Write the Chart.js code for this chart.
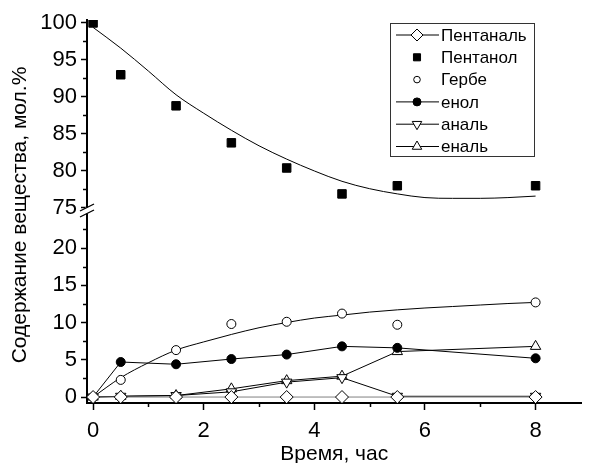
<!DOCTYPE html>
<html>
<head>
<meta charset="utf-8">
<script src="https://cdn.jsdelivr.net/npm/chart.js@4.4.1/dist/chart.umd.min.js"></script>
<style>
    html, body { margin: 0; padding: 0; background: #fff; }
    #wrap { width: 589px; height: 463px; position: relative; }
</style>
</head>
<body>
<div id="wrap"><canvas id="chart"></canvas></div>
<script>
// ==================== DATA ====================

const times = [0, 0.5, 1.5, 2.5, 3.5, 4.5, 5.5, 8];
const pentanal = [0, 0, 0, 0, 0, 0, 0, 0];
const pentanol = [100, 93.0, 88.8, 83.8, 80.4, 76.9, 78.0, 78.0];
const gerbe = [0, 2.3, 6.3, 9.8, 10.1, 11.2, 9.7, 12.7];
const enol = [0, 4.7, 4.4, 5.1, 5.7, 6.8, 6.6, 5.2];
const anal = [0, 0.1, 0.2, 0.7, 2.0, 2.6, 0.1, 0.1];
const enal = [0, 0.1, 0.2, 1.1, 2.2, 2.8, 6.1, 6.8];

// fitted curves
const fitTimes = [0, 0.5, 1, 1.5, 2, 2.5, 3, 3.5, 4, 4.5, 5, 5.5, 6, 6.5, 7, 7.5, 8];
const pentanolFit = [99.4, 96.6, 93.5, 90.3, 87.8, 85.5, 83.4, 81.6, 80.0, 78.6, 77.6, 76.9, 76.4, 76.3, 76.3, 76.4, 76.6];
const gerbeFit = [0, 2.6, 4.6, 6.3, 7.4, 8.4, 9.3, 10.0, 10.6, 11.0, 11.4, 11.7, 11.95, 12.15, 12.35, 12.55, 12.7];

const xTicks = [0, 1, 2, 3, 4, 5, 6, 7, 8];
const yLowTicks = [0, 2.5, 5, 7.5, 10, 12.5, 15, 17.5, 20, 22.5];
const yHighTicks = [75, 77.5, 80, 82.5, 85, 87.5, 90, 92.5, 95, 97.5, 100];

const FONT = '"Liberation Sans", Arial, sans-serif';

const pts = (xs, ys) => xs.map((x, i) => ({ x: x, y: ys[i] }));

// ==================== HELPERS ====================

function drawMarker(ctx, style, x, y, r, down) {
    ctx.beginPath();
    if (style === 'circle') {
        ctx.arc(x, y, r, 0, Math.PI * 2);
    } else if (style === 'rect') {
        const s = r * Math.SQRT1_2;
        ctx.rect(x - s, y - s, s * 2, s * 2);
    } else if (style === 'rectRot') {
        ctx.moveTo(x, y - r);
        ctx.lineTo(x + r, y);
        ctx.lineTo(x, y + r);
        ctx.lineTo(x - r, y);
        ctx.closePath();
    } else if (style === 'triangle') {
        const d = down ? -1 : 1;
        const c = Math.cos(Math.PI / 6) * r;
        ctx.moveTo(x, y - d * r);
        ctx.lineTo(x + c, y + d * r / 2);
        ctx.lineTo(x - c, y + d * r / 2);
        ctx.closePath();
    }
    ctx.fill();
    ctx.stroke();
}

const keepTicks = list => scale => {
    scale.ticks = list.map(v => ({ value: v }));
};

// short minor ticks, major ones are drawn by Chart.js
const minorTicks = {
    id: 'minorTicks',
    afterDraw(chart) {
        const ctx = chart.ctx;
        ctx.save();
        ctx.strokeStyle = '#000';
        ctx.lineWidth = 1.5;
        const x = chart.scales.x;
        x.ticks.forEach(t => {
            if (t.value % 2 !== 0) {
                const px = Math.round(x.getPixelForValue(t.value)) + 0.5;
                ctx.beginPath();
                ctx.moveTo(px, x.top);
                ctx.lineTo(px, x.top + 4);
                ctx.stroke();
            }
        });
        ['yLow', 'yHigh'].forEach(id => {
            const s = chart.scales[id];
            s.ticks.forEach(t => {
                if (t.value % 5 !== 0) {
                    const py = Math.round(s.getPixelForValue(t.value)) + 0.5;
                    ctx.beginPath();
                    ctx.moveTo(s.right, py);
                    ctx.lineTo(s.right - 4, py);
                    ctx.stroke();
                }
            });
        });
        ctx.restore();
    }
};

// axis break, y title and boxed legend
const decorations = {
    id: 'decorations',
    afterDraw(chart) {
        const ctx = chart.ctx;
        const area = chart.chartArea;
        const ax = area.left;
        const c = chart.scales.yHigh.bottom - 1;
        ctx.save();

        // break mark
        ctx.fillStyle = '#fff';
        ctx.fillRect(ax - 2, c - 3, 4, 6);
        ctx.strokeStyle = '#000';
        ctx.lineWidth = 1.3;
        [-3, 3].forEach(o => {
            ctx.beginPath();
            ctx.moveTo(ax - 7, c + o + 3.5);
            ctx.lineTo(ax + 7, c + o - 3.5);
            ctx.stroke();
        });

        // y title
        ctx.save();
        ctx.translate(20, 215);
        ctx.rotate(-Math.PI / 2);
        ctx.fillStyle = '#000';
        ctx.font = '21px ' + FONT;
        ctx.textAlign = 'center';
        ctx.textBaseline = 'middle';
        ctx.fillText('Содержание вещества, мол.%', 0, 0);
        ctx.restore();

        // legend
        const bx = 390, by = 23, bw = 144, bh = 133;
        ctx.fillStyle = '#fff';
        ctx.fillRect(bx, by, bw, bh);
        ctx.strokeStyle = '#333';
        ctx.lineWidth = 1;
        ctx.strokeRect(bx + 0.5, by + 0.5, bw, bh);
        ctx.font = '17px ' + FONT;
        ctx.textBaseline = 'middle';
        ctx.textAlign = 'left';
        chart.data.datasets.filter(d => d.legendSymbol).forEach((d, i) => {
            const y = 35 + i * 22.3;
            const sym = d.legendSymbol;
            ctx.strokeStyle = '#000';
            ctx.lineWidth = 1;
            if (sym.line) {
                ctx.beginPath();
                ctx.moveTo(396, y);
                ctx.lineTo(439, y);
                ctx.stroke();
            }
            ctx.fillStyle = d.pointBackgroundColor;
            drawMarker(ctx, d.pointStyle, 417, y, sym.r, d.pointRotation === 180);
            ctx.fillStyle = '#000';
            ctx.fillText(d.label, 441, y + 1);
        });
        ctx.restore();
    }
};

// ==================== CHART ====================

const ctx = document.getElementById('chart');

new Chart(ctx, {
    type: 'line',
    data: {
        datasets: [
            {
                label: 'Пентаналь',
                data: pts(times, pentanal),
                yAxisID: 'yLow',
                borderColor: '#808080',
                borderWidth: 1,
                pointStyle: 'rectRot',
                pointRadius: 6.5,
                pointBackgroundColor: '#fff',
                pointBorderColor: '#000',
                pointBorderWidth: 1,
                legendSymbol: { line: true, r: 6 }
            },
            {
                label: 'Пентанол',
                data: pts(times, pentanol),
                yAxisID: 'yHigh',
                showLine: false,
                pointStyle: 'rect',
                pointRadius: 6,
                pointBackgroundColor: '#000',
                pointBorderColor: '#000',
                pointBorderWidth: 1,
                legendSymbol: { line: false, r: 5 }
            },
            {
                label: 'Гербе',
                data: pts(times, gerbe),
                yAxisID: 'yLow',
                showLine: false,
                pointStyle: 'circle',
                pointRadius: 4.5,
                pointBackgroundColor: '#fff',
                pointBorderColor: '#000',
                pointBorderWidth: 1,
                legendSymbol: { line: false, r: 3.3 }
            },
            {
                label: 'енол',
                data: pts(times, enol),
                yAxisID: 'yLow',
                borderColor: '#000',
                borderWidth: 1,
                pointStyle: 'circle',
                pointRadius: 4.5,
                pointBackgroundColor: '#000',
                pointBorderColor: '#000',
                pointBorderWidth: 1,
                legendSymbol: { line: true, r: 4 }
            },
            {
                label: 'аналь',
                data: pts(times, anal),
                yAxisID: 'yLow',
                borderColor: '#000',
                borderWidth: 1,
                pointStyle: 'triangle',
                pointRotation: 180,
                pointRadius: 6,
                pointBackgroundColor: '#fff',
                pointBorderColor: '#000',
                pointBorderWidth: 1,
                legendSymbol: { line: true, r: 5.5 }
            },
            {
                label: 'еналь',
                data: pts(times, enal),
                yAxisID: 'yLow',
                borderColor: '#000',
                borderWidth: 1,
                pointStyle: 'triangle',
                pointRadius: 6,
                pointBackgroundColor: '#fff',
                pointBorderColor: '#000',
                pointBorderWidth: 1,
                legendSymbol: { line: true, r: 5.5 }
            },
            {
                label: 'Пентанол (fit)',
                data: pts(fitTimes, pentanolFit),
                yAxisID: 'yHigh',
                borderColor: '#000',
                borderWidth: 1,
                pointRadius: 0,
                cubicInterpolationMode: 'monotone'
            },
            {
                label: 'Гербе (fit)',
                data: pts(fitTimes, gerbeFit),
                yAxisID: 'yLow',
                borderColor: '#000',
                borderWidth: 1,
                pointRadius: 0,
                cubicInterpolationMode: 'monotone'
            }
        ]
    },
    options: {
        responsive: true,
        maintainAspectRatio: false,
        animation: false,
        devicePixelRatio: 1,
        layout: { padding: { left: 30, top: 20, right: 4, bottom: 0 } },
        plugins: {
            legend: { display: false },
            tooltip: { enabled: false }
        },
        scales: {
            x: {
                type: 'linear',
                min: -0.11,
                max: 8.83,
                afterBuildTicks: keepTicks(xTicks),
                afterFit: scale => { scale.height = 60; },
                ticks: {
                    autoSkip: false,
                    maxRotation: 0,
                    padding: 8,
                    color: '#000',
                    font: { size: 22, family: FONT },
                    callback: value => value % 2 === 0 ? value : ''
                },
                grid: {
                    drawOnChartArea: false,
                    tickLength: 7,
                    tickWidth: 1.5,
                    tickColor: c => (c.tick && c.tick.value % 2 === 0) ? '#000' : 'rgba(0,0,0,0)'
                },
                border: { color: '#000', width: 2 },
                title: {
                    display: true,
                    text: 'Время, час',
                    color: '#000',
                    font: { size: 21, family: FONT },
                    padding: { top: 0, bottom: -4 }
                }
            },
            yLow: {
                type: 'linear',
                position: 'left',
                stack: 'y',
                stackWeight: 1,
                min: -0.8,
                max: 24.9,
                afterBuildTicks: keepTicks(yLowTicks),
                afterFit: scale => { scale.width = 57; },
                ticks: {
                    autoSkip: false,
                    padding: 4,
                    color: '#000',
                    font: { size: 22, family: FONT },
                    callback: value => value % 5 === 0 ? value : ''
                },
                grid: {
                    drawOnChartArea: false,
                    tickLength: 6,
                    tickWidth: 1.5,
                    tickColor: c => (c.tick && c.tick.value % 5 === 0) ? '#000' : 'rgba(0,0,0,0)'
                },
                border: { color: '#000', width: 2 }
            },
            yHigh: {
                type: 'linear',
                position: 'left',
                stack: 'y',
                stackWeight: 1,
                min: 74.52,
                max: 100.4,
                afterBuildTicks: keepTicks(yHighTicks),
                afterFit: scale => { scale.width = 57; },
                ticks: {
                    autoSkip: false,
                    padding: 4,
                    color: '#000',
                    font: { size: 22, family: FONT },
                    callback: value => value % 5 === 0 ? value : ''
                },
                grid: {
                    drawOnChartArea: false,
                    tickLength: 6,
                    tickWidth: 1.5,
                    tickColor: c => (c.tick && c.tick.value % 5 === 0) ? '#000' : 'rgba(0,0,0,0)'
                },
                border: { color: '#000', width: 2 }
            }
        }
    },
    plugins: [minorTicks, decorations]
});
</script>
</body>
</html>
